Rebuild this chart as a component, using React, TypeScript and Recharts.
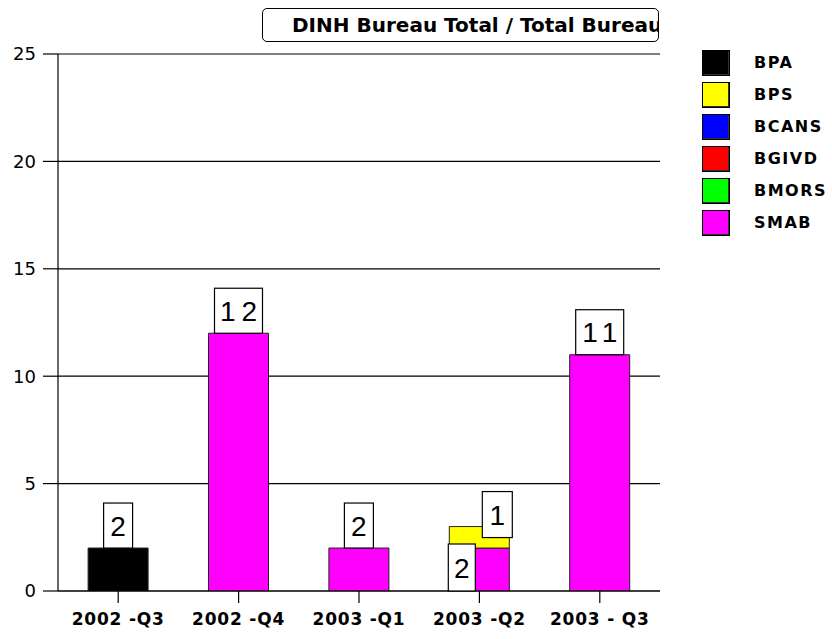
import React from 'react';
import { BarChart, Bar, XAxis, YAxis, CartesianGrid, LabelList } from 'recharts';

const categories = ['2002 -Q3', '2002 -Q4', '2003 -Q1', '2003 -Q2', '2003 - Q3'];
const BPA = [2, 0, 0, 0, 0];
const BPS = [0, 0, 0, 1, 0];
const BCANS = [0, 0, 0, 0, 0];
const BGIVD = [0, 0, 0, 0, 0];
const BMORS = [0, 0, 0, 0, 0];
const SMAB = [0, 12, 2, 2, 11];
const yTicks = [0, 5, 10, 15, 20, 25];
const titleText = 'DINH Bureau Total / Total Bureau';

const legendItems = [
  { name: 'BPA', color: '#000000' },
  { name: 'BPS', color: '#ffff00' },
  { name: 'BCANS', color: '#0000ff' },
  { name: 'BGIVD', color: '#ff0000' },
  { name: 'BMORS', color: '#00ff00' },
  { name: 'SMAB', color: '#ff00ff' },
];

// stack order (bottom to top)
const stackSeries = [
  { key: 'SMAB', values: SMAB, color: '#ff00ff' },
  { key: 'BPA', values: BPA, color: '#000000' },
  { key: 'BPS', values: BPS, color: '#ffff00' },
  { key: 'BCANS', values: BCANS, color: '#0000ff' },
  { key: 'BGIVD', values: BGIVD, color: '#ff0000' },
  { key: 'BMORS', values: BMORS, color: '#00ff00' },
];

const data = categories.map((c, i) => {
  const row: any = { name: c };
  stackSeries.forEach((s) => {
    row[s.key] = s.values[i];
  });
  return row;
});

const makeLabel = (key: string) => (props: any) => {
  const { x, y, width, height, value } = props;
  const idx = categories.indexOf(value);
  if (idx < 0) return null;
  const series = stackSeries.find((s) => s.key === key);
  const v = series ? series.values[idx] : 0;
  if (!v || !height) return null;
  const digits = String(v).length;
  const present = stackSeries.filter((s) => s.values[idx]);
  const pos = present.findIndex((s) => s.key === key);
  let bx: number, by: number, bw: number, bh: number;
  if (present.length <= 1) {
    bw = digits > 1 ? 48 : 29; bh = 45;
    bx = x + width / 2 - bw / 2;
    by = y - bh;
  } else if (pos === 0) {
    bw = 27; bh = 47;
    bx = x - 1;
    by = y + height - bh;
  } else {
    bw = 30; bh = 46;
    bx = x + width + 3 - bw;
    by = y + 11 - bh;
  }
  const ls = digits > 1 ? 6 : 0;
  return (
    <g>
      <rect x={bx} y={by} width={bw} height={bh} fill="#ffffff" stroke="#000" strokeWidth={1.2} />
      <text
        x={bx + bw / 2 + ls / 2}
        y={by + bh / 2 + 10}
        textAnchor="middle"
        fontFamily="'Liberation Sans', Arial, sans-serif"
        fontSize={28}
        letterSpacing={ls}
        fill="#000"
      >
        {v}
      </text>
    </g>
  );
};

export default function App() {
  return (
    <div style={{ position: 'absolute', left: 0, top: 0, width: 832, height: 639, background: '#fff' }}>
      <BarChart
        width={832}
        height={639}
        data={data}
        margin={{ top: 54, right: 172, left: 0, bottom: 0 }}
        barCategoryGap="25%"
      >
        <CartesianGrid horizontal={true} vertical={false} stroke="#000" strokeWidth={1.2} />
        <XAxis
          dataKey="name"
          height={48}
          tickSize={12}
          tickMargin={10}
          stroke="#000"
          axisLine={{ stroke: '#000', strokeWidth: 1.2 }}
          tickLine={{ stroke: '#000', strokeWidth: 1.2 }}
          tick={{ fill: '#000', fontFamily: "'DejaVu Sans', sans-serif", fontWeight: 'bold', fontSize: 17, letterSpacing: 0.8 }}
          interval={0}
        />
        <YAxis
          width={58}
          domain={[0, 25]}
          ticks={yTicks}
          tickSize={15}
          tickMargin={7}
          axisLine={{ stroke: '#000', strokeWidth: 1.2 }}
          tickLine={{ stroke: '#000', strokeWidth: 1.2 }}
          tick={{ fill: '#000', fontFamily: "'DejaVu Sans', sans-serif", fontSize: 18 }}
          allowDataOverflow
        />
        {stackSeries.map((s) => (
          <Bar
            key={s.key}
            dataKey={s.key}
            stackId="a"
            fill={s.color}
            stroke="#222"
            strokeWidth={1}
            isAnimationActive={false}
          >
            <LabelList dataKey="name" content={makeLabel(s.key)} />
          </Bar>
        ))}
      </BarChart>

      <div
        style={{
          position: 'absolute',
          left: 262,
          top: 8,
          width: 395,
          height: 32,
          border: '1px solid #000',
          borderRadius: 5,
          overflow: 'hidden',
          whiteSpace: 'nowrap',
          boxSizing: 'content-box',
          background: '#fff',
        }}
      >
        <div
          style={{
            position: 'absolute',
            left: 29,
            top: 5,
            fontFamily: "'DejaVu Sans', sans-serif",
            fontWeight: 'bold',
            fontSize: 20,
            lineHeight: '22px',
            color: '#000',
          }}
        >
          {titleText}
        </div>
      </div>

      {legendItems.map((it, i) => (
        <div key={it.name} style={{ position: 'absolute', left: 702, top: 50 + i * 32, height: 26 }}>
          <div
            style={{
              position: 'absolute',
              left: 0,
              top: 0,
              width: 26,
              height: 24,
              background: it.color,
              border: '1px solid #000',
              boxShadow: 'inset -1px -1px 0 #333',
            }}
          />
          <div
            style={{
              position: 'absolute',
              left: 52,
              top: 4,
              fontFamily: "'DejaVu Sans', sans-serif",
              fontWeight: 'bold',
              fontSize: 16,
              letterSpacing: 1.5,
              lineHeight: '18px',
              whiteSpace: 'nowrap',
              color: '#000',
            }}
          >
            {it.name}
          </div>
        </div>
      ))}
    </div>
  );
}
